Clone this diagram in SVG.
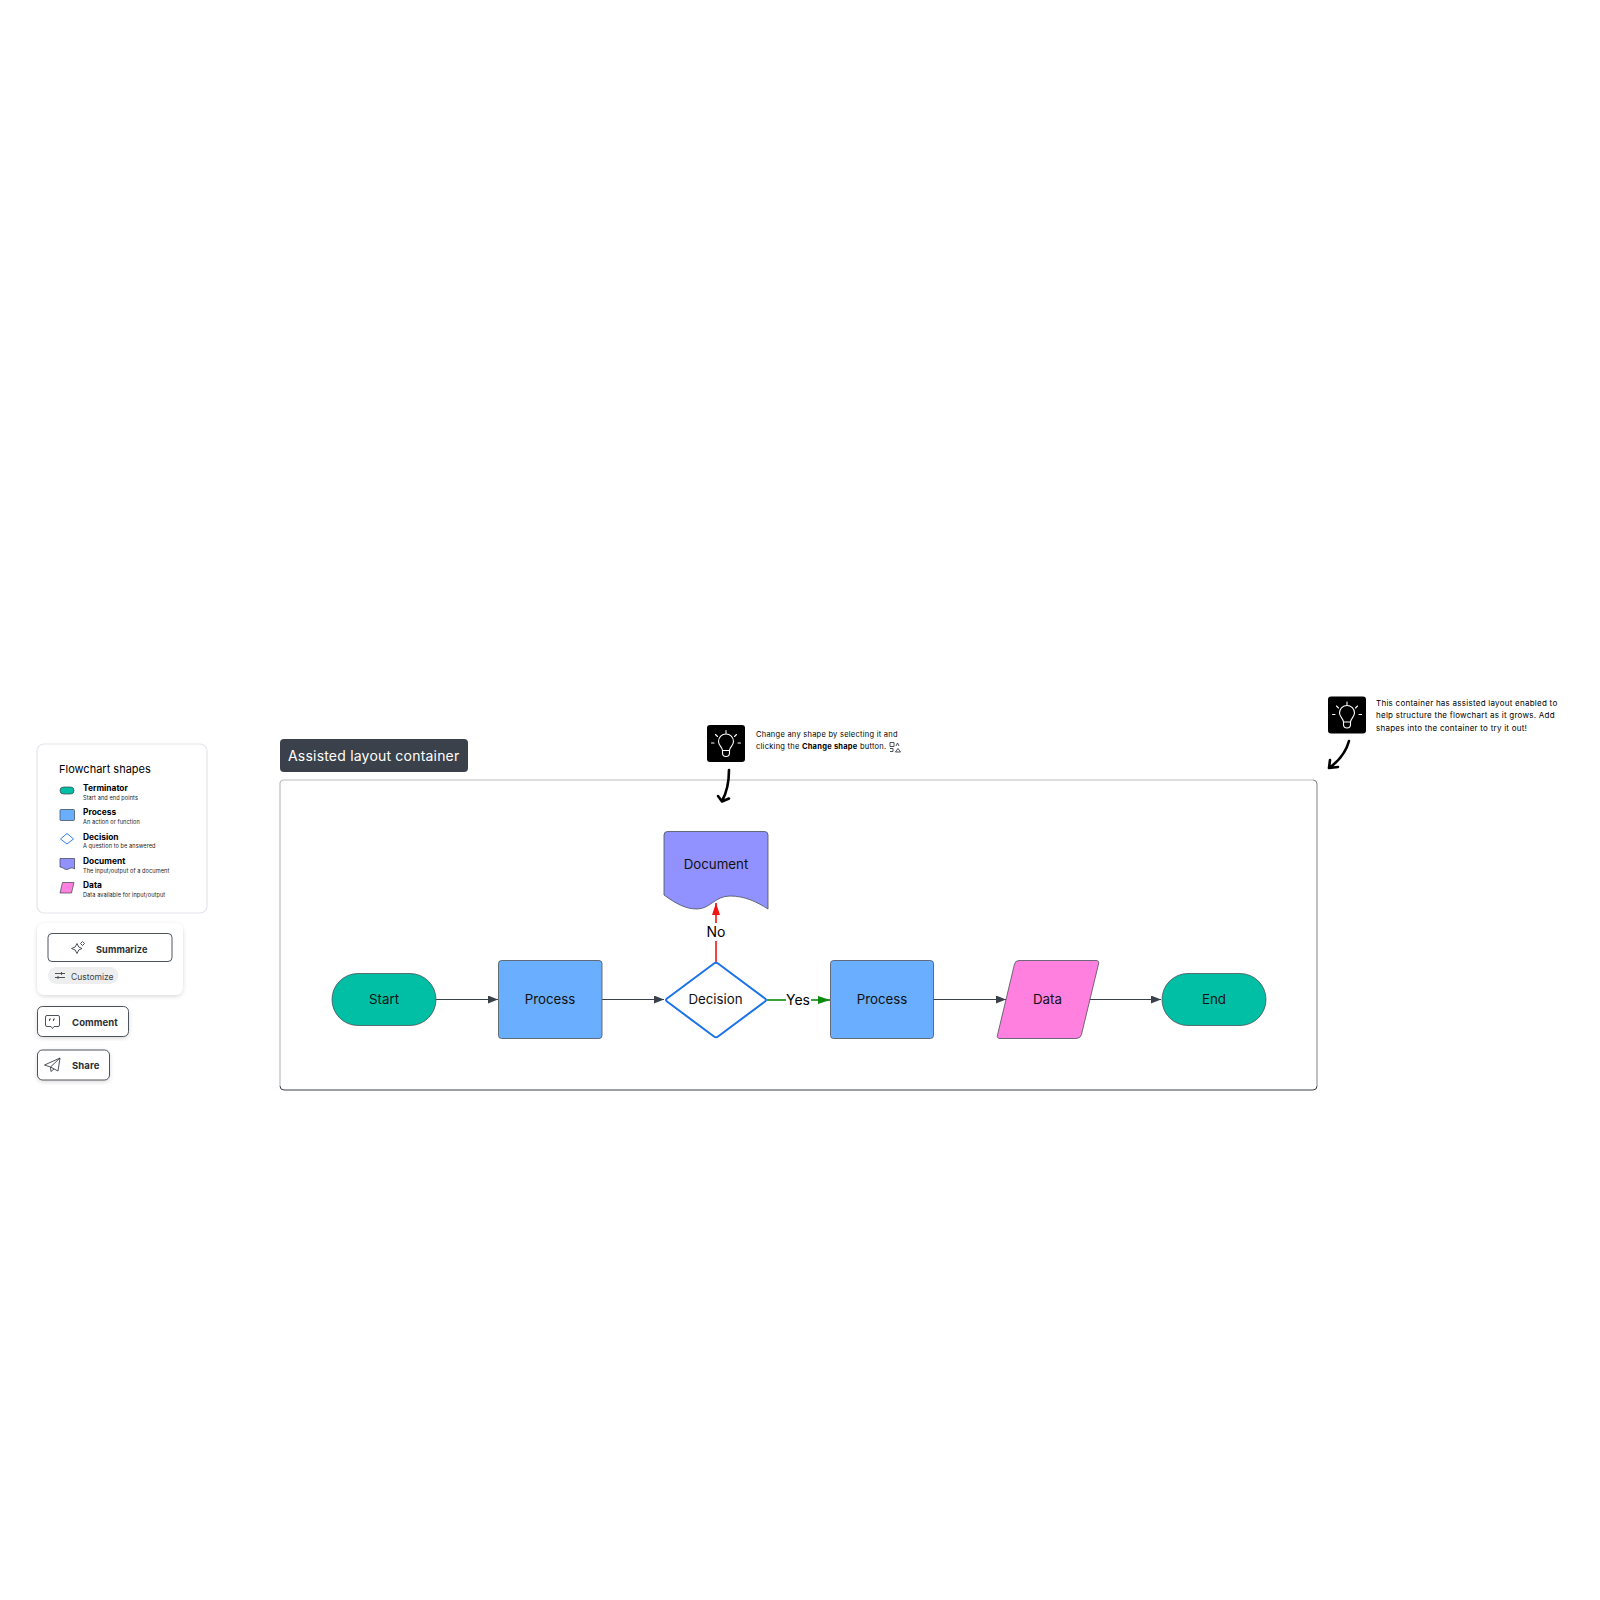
<svg xmlns="http://www.w3.org/2000/svg" width="1600" height="1600" viewBox="0 0 1600 1600">
<defs>
<style>
text{font-family:Inter,"Liberation Sans",sans-serif;fill:#000}
.n{font-size:13.300px;text-anchor:middle;fill:#111}
.sh{stroke:#4a5058;stroke-width:.8}
.b{font-size:8.400px;font-weight:700}
.s{font-size:5.600px;fill:#222;letter-spacing:.08px}
.t{font-size:8px;letter-spacing:.25px}
.t1{font-size:7.500px;letter-spacing:.25px}
.btn{font-size:9.500px;font-weight:700;fill:#2a2f36;letter-spacing:.1px}
.card{fill:#fff;stroke:#e2e5ec;stroke-width:1.200}
.bt{fill:#fff;stroke:#3a414a;stroke-width:.9}
.ic{fill:none;stroke:#3a414a;stroke-width:.9}
.c{fill:none;stroke:#3a414a;stroke-width:1}
.hand{fill:none;stroke:#000;stroke-width:2.600;stroke-linecap:round;stroke-linejoin:round}
.bulb{fill:none;stroke:#fff;stroke-width:1.100;stroke-linecap:round}
</style>
<marker id="a" viewBox="0 0 10 8" refX="10" refY="4" markerWidth="10" markerHeight="8" markerUnits="userSpaceOnUse" orient="auto"><path d="M0 0L10 4L0 8Z" fill="#3a414a"/></marker>
<marker id="g" viewBox="0 0 12 8" refX="12" refY="4" markerWidth="12" markerHeight="8" markerUnits="userSpaceOnUse" orient="auto"><path d="M0 0L12 4L0 8Z" fill="#0a8a0a"/></marker>
<marker id="r" viewBox="0 0 12 8" refX="12" refY="4" markerWidth="12" markerHeight="8" markerUnits="userSpaceOnUse" orient="auto"><path d="M0 0L12 4L0 8Z" fill="#f01414"/></marker>
<filter id="sd" x="-10%" y="-10%" width="120%" height="125%"><feDropShadow dx="0" dy="1.500" stdDeviation="2" flood-color="#000" flood-opacity=".15"/></filter>
<g id="bulbicon"><rect width="38" height="37" rx="3" fill="#000"/><path class="bulb" d="M15.500 25.500C15.500 22 11.500 20.500 11.500 16.500A7.500 7.500 0 0 1 26.500 16.500C26.500 20.500 22.500 22 22.500 25.500ZM15.500 25.500V28A3.500 3.500 0 0 0 22.500 28V25.500M19 5.500V8M8.500 9.500L10.500 11.500M29.500 9.500L27.500 11.500M4.500 18H7M31 18H33.500"/></g>
</defs>
<rect width="1600" height="1600" fill="#fff"/>

<g id="legend">
<rect class="card" x="37" y="744" width="170" height="169" rx="7"/>
<text x="59" y="773" font-size="11">Flowchart shapes</text>
<rect x="60" y="787" width="14" height="7" rx="3.500" fill="#00bfa5" stroke="#3a414a" stroke-width=".7"/>
<text class="b" x="83" y="791">Terminator</text><text class="s" x="83" y="800">Start and end points</text>
<rect x="60" y="809.500" width="14.500" height="11" rx="1" fill="#6aaeff" stroke="#3a414a" stroke-width=".7"/>
<text class="b" x="83" y="815">Process</text><text class="s" x="83" y="823.500">An action or function</text>
<path d="M67 833.500L73.500 839L67 844L60.500 839Z" fill="#fff" stroke="#1a73e8" stroke-width=".9" stroke-linejoin="round"/>
<text class="b" x="83" y="839.500">Decision</text><text class="s" x="83" y="848">A question to be answered</text>
<path d="M60 858.500H74.500V869C71 866.500 69.500 869 67 869.500C64.500 870 63 867 60 867Z" fill="#9191ff" stroke="#3a414a" stroke-width=".7"/>
<text class="b" x="83" y="864">Document</text><text class="s" x="83" y="872.500">The input/output of a document</text>
<path d="M62.500 882.500H74L71.500 893H60Z" fill="#ff80df" stroke="#3a414a" stroke-width=".7"/>
<text class="b" x="83" y="888">Data</text><text class="s" x="83" y="896.500">Data available for input/output</text>
</g>

<g id="summarize">
<rect x="37" y="923" width="146" height="72" rx="8" fill="#fff" filter="url(#sd)"/>
<rect class="bt" x="48" y="933.500" width="124" height="28" rx="4"/>
<path class="ic" d="M77 943.500Q78 948 82 948.500Q78 949 77 953.500Q76 949 71.500 948.500Q76 948 77 943.500ZM82.500 941.500L84.500 943.500L82.500 945.500L80.500 943.500Z"/>
<text class="btn" x="96" y="952.500" style="font-size:9.200px">Summarize</text>
<rect x="48" y="967" width="70.500" height="17" rx="8.500" fill="#eeeeee"/>
<path class="ic" d="M55 973.500H65M55 977.500H65M61.500 972V975M58 976V979"/>
<text x="71" y="980" font-size="8.500" style="fill:#3a414a">Customize</text>
</g>

<g id="comment">
<rect class="bt" x="37.500" y="1006.500" width="91" height="30" rx="5" filter="url(#sd)"/>
<path class="ic" d="M47 1015.500H58Q59.500 1015.500 59.500 1017V1025Q59.500 1026.500 58 1026.500H54L52.500 1028.500L51 1026.500H47Q45.500 1026.500 45.500 1025V1017Q45.500 1015.500 47 1015.500Z" stroke-linejoin="round"/>
<path class="ic" d="M49.500 1021V1019H51M53.500 1021V1019H55"/>
<text class="btn" x="72" y="1026">Comment</text>
</g>

<g id="share">
<rect class="bt" x="37.500" y="1050" width="72" height="30" rx="5" filter="url(#sd)"/>
<path class="ic" d="M44.500 1065L60 1058L58 1071L50.500 1067ZM50.500 1067L60 1058M50.500 1067L51 1071.500L54 1069" stroke-linejoin="round"/>
<text class="btn" x="72" y="1069">Share</text>
</g>

<g id="container">
<rect x="280" y="780" width="1037" height="310" rx="4" fill="#fff" stroke="none"/>
<path d="M280 1086V784Q280 780 284 780H1313" fill="none" stroke="#b9bbc0" stroke-width="1.200"/>
<path d="M1313 780Q1317 780 1317 784V1086" fill="none" stroke="#7d828a" stroke-width="1"/>
<path d="M280 1086Q280 1090 284 1090H1313Q1317 1090 1317 1086" fill="none" stroke="#3a414a" stroke-width="1"/>
<rect x="280" y="739" width="188" height="33" rx="4" fill="#3a414a"/>
<text x="288" y="761" font-size="14" letter-spacing=".2" style="fill:#fff">Assisted layout container</text>
</g>

<g id="connectors">
<path class="c" d="M436 999.500H498" marker-end="url(#a)"/>
<path class="c" d="M602 999.500H664" marker-end="url(#a)"/>
<path d="M767 1000H786" fill="none" stroke="#0a8a0a" stroke-width="1.600"/>
<path d="M811 1000H830" fill="none" stroke="#0a8a0a" stroke-width="1.600" marker-end="url(#g)"/>
<path class="c" d="M933 999.500H1006" marker-end="url(#a)"/>
<path class="c" d="M1089 999.500H1161" marker-end="url(#a)"/>
<path d="M716 962V941" fill="none" stroke="#f01414" stroke-width="1.600"/>
<path d="M716 923V903" fill="none" stroke="#f01414" stroke-width="1.600" marker-end="url(#r)"/>
<text x="798" y="1005" font-size="14" text-anchor="middle">Yes</text>
<text x="716" y="937" font-size="14" text-anchor="middle">No</text>
</g>

<g id="start"><rect class="sh" x="332" y="973.500" width="104" height="52" rx="26" fill="#00bfa5"/><text class="n" x="384" y="1004">Start</text></g>
<g id="process1"><rect class="sh" x="498.500" y="960.500" width="103.500" height="78" rx="3" fill="#6aaeff"/><text class="n" x="550" y="1004">Process</text></g>
<g id="decision"><path d="M714 963.500Q716 962 718 963.500L765 998.500Q767 1000 765 1001.500L718 1036.500Q716 1038 714 1036.500L667 1001.500Q665 1000 667 998.500Z" fill="#fff" stroke="#1a73e8" stroke-width="2" stroke-linejoin="round"/><text class="n" x="715.500" y="1004">Decision</text></g>
<g id="process2"><rect class="sh" x="830.500" y="960.500" width="103" height="78" rx="3" fill="#6aaeff"/><text class="n" x="882" y="1004">Process</text></g>
<g id="data"><path class="sh" d="M1019 960.500H1096Q1099.500 960.500 1098.500 964L1081.500 1034.500Q1080.500 1038.500 1076 1038.500H1000Q996.500 1038.500 997.500 1035L1014.500 964Q1015.500 960.500 1019 960.500Z" fill="#ff80df"/><text class="n" x="1047.500" y="1004">Data</text></g>
<g id="end"><rect class="sh" x="1162" y="973.500" width="104" height="52" rx="26" fill="#00bfa5"/><text class="n" x="1214" y="1004">End</text></g>
<g id="document"><path class="sh" d="M664 895C675 903 685 909 697 909C710 909 715 896 730 896C745 896 757 902 768 909V835Q768 831.500 764.500 831.500H667.500Q664 831.500 664 835Z" fill="#9191ff"/><text class="n" x="716" y="868.500">Document</text></g>

<g id="tip1">
<use href="#bulbicon" x="707" y="725"/>
<text class="t1" x="756" y="737">Change any shape by selecting it and</text>
<text class="t1" x="756" y="748.500">clicking the <tspan font-weight="700">Change shape</tspan> button.</text>
<path class="ic" stroke-width=".6" d="M890 742.500h4v4h-4zM896 746l1.500-3 1.500 3M890 748.500h3v3h-3M895.500 752l2.500-3.500 2.500 3.500z"/>
<path class="hand" d="M729 770C729 782 727 792 722 801M718 796L722 801.500L729 798.500"/>
</g>
<g id="tip2">
<use href="#bulbicon" x="1328" y="696.500"/>
<text class="t" x="1376" y="705.500">This container has assisted layout enabled to</text>
<text class="t" x="1376" y="718">help structure the flowchart as it grows. Add</text>
<text class="t" x="1376" y="730.500">shapes into the container to try it out!</text>
<path class="hand" d="M1349 741C1346 752 1339 761 1329 768M1330 760L1329 768L1338 767"/>
</g>
</svg>
